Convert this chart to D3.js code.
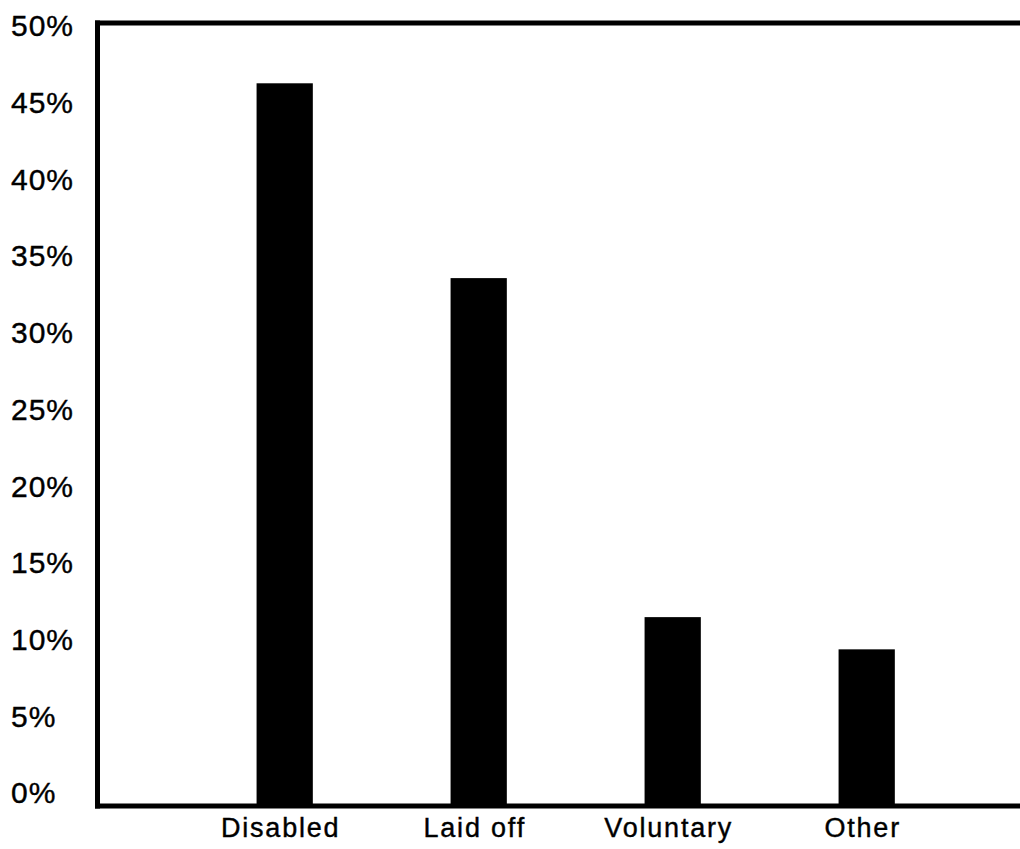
<!DOCTYPE html>
<html><head><meta charset="utf-8">
<script src="https://cdn.jsdelivr.net/npm/d3@7"></script>
<style>
html,body{margin:0;padding:0;background:#fff;}
svg{display:block;}
text{font-family:"Liberation Sans",Arial,Helvetica,sans-serif;fill:#000;stroke:#000;stroke-width:0.4px;}
</style></head>
<body>
<svg id="chart" width="1020" height="849"></svg>
<script>
const categories = ["Disabled", "Laid off", "Voluntary", "Other"];
const values = [46.2, 33.5, 11.4, 9.3];
const tickValues = [0, 5, 10, 15, 20, 25, 30, 35, 40, 45, 50];
const tickLabels = ["0%", "5%", "10%", "15%", "20%", "25%", "30%", "35%", "40%", "45%", "50%"];

const svg = d3.select("#chart");
const W = 1020, H = 849;
const frameLeft = 97.5, frameTop = 23, frameBottom = 806;

const y = d3.scaleLinear().domain([0, 50]).range([792, 25]);
const step = 194, x0 = 187.7;
const x = d3.scaleBand().domain(categories)
  .range([x0, x0 + step * categories.length])
  .paddingInner(0.71).paddingOuter(0.355);

// bars
svg.append("g").selectAll("rect").data(categories).join("rect")
  .attr("x", d => x(d))
  .attr("width", x.bandwidth())
  .attr("y", (d, i) => y(values[i]))
  .attr("height", (d, i) => frameBottom - y(values[i]))
  .attr("fill", "#000");

// frame
const fr = svg.append("g").attr("stroke", "#000").attr("stroke-width", 5).attr("fill", "none");
fr.append("line").attr("x1", 95).attr("x2", W).attr("y1", frameTop).attr("y2", frameTop);
fr.append("line").attr("x1", frameLeft).attr("x2", frameLeft).attr("y1", frameTop - 2.5).attr("y2", frameBottom + 2.5);
fr.append("line").attr("x1", 95).attr("x2", W).attr("y1", frameBottom).attr("y2", frameBottom);

// y tick labels (left-aligned)
const yAxis = d3.axisLeft(y).tickValues(tickValues)
  .tickFormat((d, i) => tickLabels[i]).tickSize(0).tickPadding(0);
const ga = svg.append("g").attr("transform", "translate(11,0)").call(yAxis);
ga.select(".domain").remove();
ga.selectAll("text")
  .attr("text-anchor", "start").attr("x", 0).attr("dy", "0.36em")
  .style("font-size", "30px").style("letter-spacing", "1px")
  .style("font-family", "'Liberation Sans',Arial,sans-serif");

// x category labels
const xAxis = d3.axisBottom(x).tickSize(0).tickPadding(0);
const gx = svg.append("g").attr("transform", `translate(-4,${frameBottom})`).call(xAxis);
gx.select(".domain").remove();
gx.selectAll("text")
  .attr("y", 0).attr("dy", 31)
  .style("font-size", "27px").style("letter-spacing", "1.8px")
  .style("font-family", "'Liberation Sans',Arial,sans-serif");
</script>
</body></html>
